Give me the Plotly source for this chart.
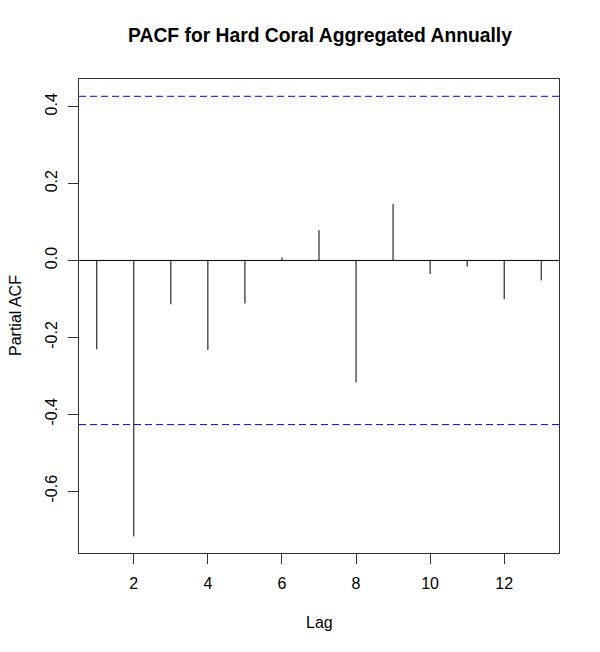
import plotly.graph_objects as go

lags = [1, 2, 3, 4, 5, 6, 7, 8, 9, 10, 11, 12, 13]
pacf = [-0.231, -0.718, -0.114, -0.233, -0.112, 0.008, 0.079, -0.317, 0.147,
        -0.035, -0.016, -0.101, -0.052]
conf_limit = 0.427
x_ticks = [2, 4, 6, 8, 10, 12]
y_ticks = [-0.6, -0.4, -0.2, 0.0, 0.2, 0.4]
y_tick_labels = ["-0.6", "-0.4", "-0.2", "0.0", "0.2", "0.4"]

FONT = "Liberation Sans, Arial, Helvetica, sans-serif"

W, H = 600, 652

xs, ys = [], []
for l, v in zip(lags, pacf):
    xs += [l, l, None]
    ys += [0, v, None]

fig = go.Figure()
fig.add_trace(go.Scatter(x=xs, y=ys, mode="lines",
                         line=dict(color="black", width=1),
                         hoverinfo="skip", showlegend=False))

# zero line
fig.add_shape(type="line", xref="paper", x0=0, x1=1, yref="y", y0=0, y1=0,
              line=dict(color="black", width=1))
# confidence limits
for c in (conf_limit, -conf_limit):
    fig.add_shape(type="line", xref="paper", x0=0, x1=1, yref="y", y0=c, y1=c,
                  line=dict(color="blue", width=1, dash="7px,4px"))

fig.update_layout(
    width=W, height=H,
    margin=dict(l=79, r=41, t=79, b=99),
    paper_bgcolor="white", plot_bgcolor="white",
    font=dict(family=FONT, size=16, color="black"),
    title=dict(text="<b>PACF for Hard Coral Aggregated Annually</b>",
               x=320 / W, xanchor="center", y=1 - 35 / H,
               yanchor="middle",
               font=dict(family=FONT, size=19.3, color="black")),
    showlegend=False,
)
fig.update_xaxes(range=[0.52, 13.48], tickvals=x_ticks, ticks="outside",
                 ticklen=10, tickcolor="#333", showline=True, linecolor="#333",
                 linewidth=1, mirror=True, showgrid=False, zeroline=False,
                 ticklabelstandoff=6, tickfont=dict(size=16))
fig.update_yaxes(range=[-0.761, 0.472], tickvals=y_ticks, ticktext=y_tick_labels,
                 ticks="outside", ticklen=10, tickcolor="#333", tickangle=-90,
                 showline=True, linecolor="#333", linewidth=1, mirror=True,
                 showgrid=False, zeroline=False, ticklabelstandoff=5,
                 tickfont=dict(size=16))

fig.add_annotation(text="Lag", xref="paper", yref="paper", x=0.5, y=0,
                   yshift=-69, showarrow=False, yanchor="middle",
                   font=dict(size=16))
fig.add_annotation(text="Partial ACF", xref="paper", yref="paper", x=0, y=0.5,
                   xshift=-64, showarrow=False, textangle=-90, xanchor="center",
                   font=dict(size=16))

fig.write_html("out.html",
               config={"displayModeBar": False},
               post_script="document.body.style.margin='0';")
